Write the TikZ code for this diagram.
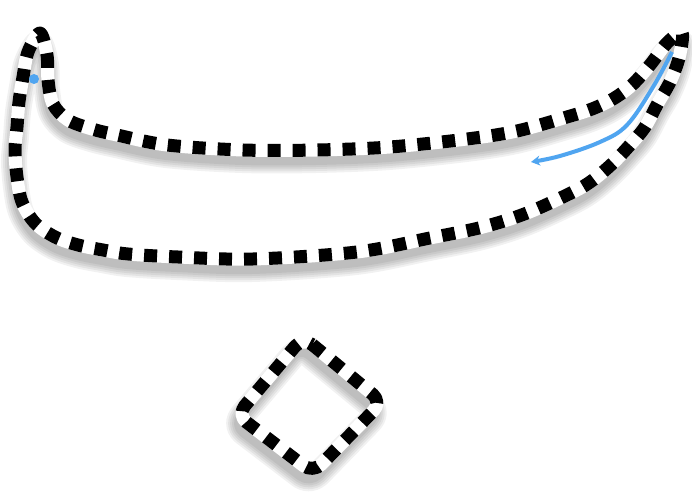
\documentclass[tikz,border=0pt]{standalone}
\usetikzlibrary{arrows.meta}
\definecolor{arrowblue}{RGB}{80,165,240}
\tikzset{
  shadowstroke/.style={draw=black, draw opacity=0.055, line width=#1, line join=round, line cap=round},
  whitestroke/.style={draw=white, line width=13pt, line join=round},
  dashstroke/.style={draw=black, line width=13pt, dash pattern=on 13pt off 12pt, line join=round},
}
\begin{document}
\begin{tikzpicture}[x=1pt,y=-1pt]
\useasboundingbox[fill=white] (0,0) rectangle (692,494);
\def\banana{plot[smooth cycle, tension=0.55] coordinates {
 (40,33) (47,55) (48,80) (53,104) (68,120) (92,129) (117,135) (167,145) (243,150)
 (317,150) (390,147) (467,139) (517,131) (567,117) (592,109) (613,99) (632,85)
 (650,65) (667,43) (682,33) (679,58) (670,82) (658,103) (645,127) (630,145)
 (613,163) (593,180) (573,192) (527,213) (483,227) (430,238) (357,252) (253,259)
 (178,257) (128,254) (103,250) (78,245) (55,237) (35,223) (22,202) (17,177)
 (15,150) (17,127) (19,102) (23,77) (28,52)}}
\def\diam{[rounded corners=12pt] (303,337) -- (382,402) -- (313,473) -- (237,415) -- cycle}
% shadows
\foreach \w in {26,22,18,14,10}{
  \draw[shadowstroke=\w pt, shift={(-1,10)}] \banana;
  \draw[shadowstroke=\w pt, shift={(-3,10)}] \diam;
}
% white bands
\draw[whitestroke] \banana;
\draw[whitestroke] \diam;
% dashes
\draw[dashstroke] \banana;
\draw[dashstroke] \diam;
% blue arrow and dot
\draw[arrowblue, line width=4pt, -{Stealth[length=9pt,width=10pt]}]
  plot[smooth, tension=0.6] coordinates {(672,52) (653,87) (627,125) (600,142) (560,156) (531,162)};
\fill[arrowblue] (34,79) circle (5pt);
\end{tikzpicture}
\end{document}
